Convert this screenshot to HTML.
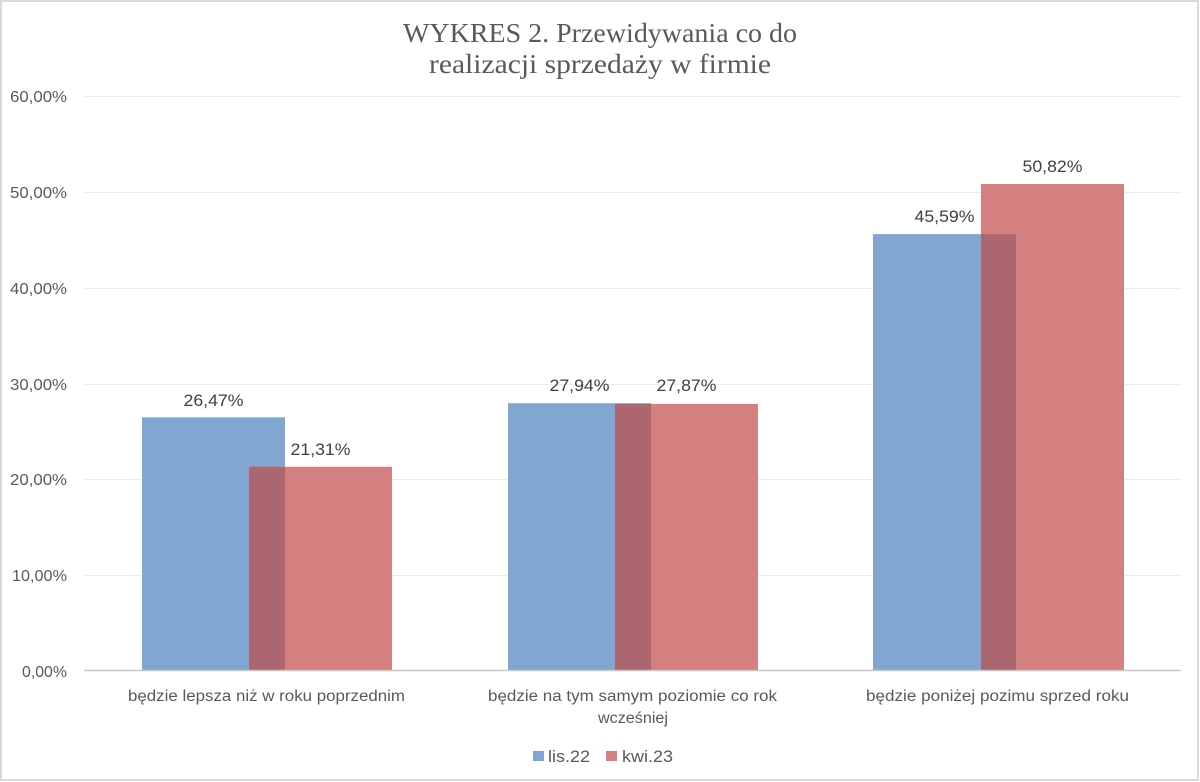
<!DOCTYPE html>
<html><head><meta charset="utf-8"><style>
html,body{margin:0;padding:0;background:#fff;}
svg{display:block;}
</style></head><body>
<svg width="1200" height="782" viewBox="0 0 1200 782" xmlns="http://www.w3.org/2000/svg">
<rect x="0" y="0" width="1200" height="782" fill="#ffffff"/>
<rect x="1" y="1" width="1197" height="779" fill="none" stroke="#d9d9d9" stroke-width="2"/>
<g font-family="'Liberation Serif', serif" fill="#595959" font-size="27.5" text-anchor="middle">
<text x="600" y="42" textLength="394" lengthAdjust="spacingAndGlyphs">WYKRES 2. Przewidywania co do</text>
<text x="600" y="73" textLength="342" lengthAdjust="spacingAndGlyphs">realizacji sprzedaży w firmie</text>
</g>
<g stroke="#ececec" stroke-width="1">
<line x1="84" y1="96.5" x2="1181" y2="96.5"/>
<line x1="84" y1="192.5" x2="1181" y2="192.5"/>
<line x1="84" y1="288.5" x2="1181" y2="288.5"/>
<line x1="84" y1="384.5" x2="1181" y2="384.5"/>
<line x1="84" y1="479.5" x2="1181" y2="479.5"/>
<line x1="84" y1="575.5" x2="1181" y2="575.5"/>
</g>
<g font-family="'Liberation Sans', sans-serif" fill="#595959" font-size="16" text-anchor="end">
<text x="67" y="102" textLength="57" lengthAdjust="spacingAndGlyphs">60,00%</text>
<text x="67" y="198" textLength="57" lengthAdjust="spacingAndGlyphs">50,00%</text>
<text x="67" y="294" textLength="57" lengthAdjust="spacingAndGlyphs">40,00%</text>
<text x="67" y="390" textLength="57" lengthAdjust="spacingAndGlyphs">30,00%</text>
<text x="67" y="485" textLength="57" lengthAdjust="spacingAndGlyphs">20,00%</text>
<text x="67" y="581" textLength="55" lengthAdjust="spacingAndGlyphs">10,00%</text>
<text x="67" y="677" textLength="45" lengthAdjust="spacingAndGlyphs">0,00%</text>
</g>
<!-- bars -->
<g>
<rect x="142" y="417.3" width="143" height="253.7" fill="#80a6d1"/>
<rect x="249" y="466.8" width="143" height="204.2" fill="#d48080"/>
<rect x="249" y="466.8" width="36" height="204.2" fill="#ac6670"/>

<rect x="508" y="403.2" width="143" height="267.8" fill="#80a6d1"/>
<rect x="615" y="403.9" width="143" height="267.1" fill="#d48080"/>
<rect x="615" y="403.9" width="36" height="267.1" fill="#ac6670"/>

<rect x="873" y="234.1" width="143" height="436.9" fill="#80a6d1"/>
<rect x="981" y="184.0" width="143" height="487.0" fill="#d48080"/>
<rect x="981" y="234.1" width="35" height="436.9" fill="#ac6670"/>
</g>
<line x1="84" y1="670.5" x2="1181" y2="670.5" stroke="#c8c8c8" stroke-width="1.5"/>
<g font-family="'Liberation Sans', sans-serif" fill="#404040" font-size="16.5" text-anchor="middle">
<text x="213.5" y="406" textLength="60" lengthAdjust="spacingAndGlyphs">26,47%</text>
<text x="320.5" y="455" textLength="60" lengthAdjust="spacingAndGlyphs">21,31%</text>
<text x="579.5" y="391" textLength="60" lengthAdjust="spacingAndGlyphs">27,94%</text>
<text x="686.5" y="391" textLength="60" lengthAdjust="spacingAndGlyphs">27,87%</text>
<text x="944.5" y="222" textLength="60" lengthAdjust="spacingAndGlyphs">45,59%</text>
<text x="1052.5" y="172" textLength="60" lengthAdjust="spacingAndGlyphs">50,82%</text>
</g>
<g font-family="'Liberation Sans', sans-serif" fill="#595959" font-size="15.5" text-anchor="middle">
<text x="266.5" y="701" textLength="277" lengthAdjust="spacingAndGlyphs">będzie lepsza niż w roku poprzednim</text>
<text x="632.5" y="701" textLength="289" lengthAdjust="spacingAndGlyphs">będzie na tym samym poziomie co rok</text>
<text x="633" y="723" textLength="70" lengthAdjust="spacingAndGlyphs">wcześniej</text>
<text x="997.5" y="701" textLength="263" lengthAdjust="spacingAndGlyphs">będzie poniżej pozimu sprzed roku</text>
</g>
<rect x="533" y="751" width="11" height="10" fill="#80a6d1"/>
<rect x="606" y="751" width="11" height="10" fill="#d48080"/>
<g font-family="'Liberation Sans', sans-serif" fill="#595959" font-size="16.5">
<text x="548" y="762" textLength="42" lengthAdjust="spacingAndGlyphs">lis.22</text>
<text x="622" y="762" textLength="51" lengthAdjust="spacingAndGlyphs">kwi.23</text>
</g>
</svg>
</body></html>
